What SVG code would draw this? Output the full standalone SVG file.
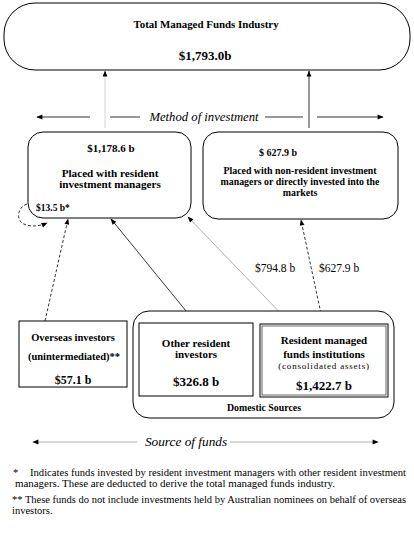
<svg xmlns="http://www.w3.org/2000/svg" width="414" height="538" viewBox="0 0 414 538">
<style>
text{font-family:'Liberation Serif','DejaVu Serif',serif;fill:#000}
.b{font-weight:bold}
.c{text-anchor:middle}
.i{font-style:italic}
.box{fill:#fff;stroke:#000;stroke-width:1}
.ln{fill:none;stroke:#000;stroke-width:0.8}
.dash{stroke-dasharray:3,2}
.gray{stroke:#999}
.lgray{stroke:#ccc}
.fn{font-size:10.5px}
</style>
<defs>
<marker id="ah" viewBox="0 0 10 10" refX="9" refY="5" markerWidth="7" markerHeight="6" markerUnits="userSpaceOnUse" orient="auto">
<path d="M0,1 L10,5 L0,9 Z" fill="#000"/>
</marker>
</defs>
<rect width="414" height="538" fill="#fff"/>

<g id="connectors">
<line class="ln lgray" x1="105" y1="128" x2="105" y2="71" marker-end="url(#ah)"/>
<line class="ln" x1="309" y1="128" x2="309" y2="71" marker-end="url(#ah)"/>
<line class="ln" x1="90" y1="117" x2="37" y2="117" marker-end="url(#ah)"/>
<line class="ln" x1="110" y1="117" x2="140" y2="117"/>
<line class="ln" x1="265" y1="117" x2="303" y2="117"/>
<line class="ln" x1="317" y1="117" x2="383" y2="117" marker-end="url(#ah)"/>
<path class="ln dash" d="M27,204 C18,207 16,218 22,223 C28,227 38,227 47,223" marker-end="url(#ah)"/>
<line class="ln dash" x1="45" y1="321" x2="68" y2="219" marker-end="url(#ah)"/>
<line class="ln" stroke="#333" stroke-width="0.6" x1="195" y1="322" x2="111" y2="219" marker-end="url(#ah)"/>
<line class="ln gray" x1="290" y1="323" x2="188" y2="217" marker-end="url(#ah)"/>
<line class="ln dash" x1="323" y1="323" x2="301" y2="220" marker-end="url(#ah)"/>
<line class="ln gray" x1="137" y1="442" x2="33" y2="442" marker-end="url(#ah)"/>
<line class="ln gray" x1="230" y1="442" x2="378" y2="442" marker-end="url(#ah)"/>
</g>

<g id="total">
<rect class="box" x="4" y="3" width="406" height="67" rx="31" ry="31"/>
<text class="b c" x="206" y="28" font-size="10.9">Total Managed Funds Industry</text>
<text class="b c" x="205" y="60" font-size="13">$1,793.0b</text>
</g>

<text class="i c" x="204" y="121" font-size="12.7">Method of investment</text>

<g id="resident-managers">
<rect class="box" x="28" y="132" width="163" height="86" rx="15" ry="15"/>
<text class="b c" x="111" y="152" font-size="11">$1,178.6 b</text>
<text class="b c" x="110" y="177" font-size="11.2">Placed with resident</text>
<text class="b c" x="110" y="188" font-size="11.2">investment managers</text>
<text class="b" x="36" y="211" font-size="9.5">$13.5 b*</text>
</g>

<g id="non-resident">
<rect class="box" x="203" y="132" width="195" height="87" rx="15" ry="15"/>
<text class="b c" x="278" y="156" font-size="10">$ 627.9 b</text>
<text class="b c" x="300" y="174" font-size="9.9">Placed with non-resident investment</text>
<text class="b c" x="300" y="185" font-size="9.9">managers or directly invested into the</text>
<text class="b c" x="300" y="196" font-size="9.9">markets</text>
</g>

<text class="c" x="275" y="272" font-size="11.5">$794.8 b</text>
<text class="c" x="339" y="272" font-size="11.5">$627.9 b</text>

<g id="overseas">
<rect class="box" x="19" y="321" width="108" height="66"/>
<text class="b c" x="73" y="341" font-size="10.5">Overseas investors</text>
<text class="b c" x="74" y="360" font-size="10.5">(unintermediated)**</text>
<text class="b c" x="73" y="384" font-size="12">$57.1 b</text>
</g>

<g id="domestic">
<rect class="box" x="133" y="311" width="261" height="107" rx="16" ry="16" stroke-width="0.8"/>
<text class="b c" x="264" y="411" font-size="9.9">Domestic Sources</text>
</g>

<g id="other-resident">
<rect class="box" x="139" y="323" width="114" height="73"/>
<text class="b c" x="196" y="347" font-size="11">Other resident</text>
<text class="b c" x="196" y="358" font-size="11">investors</text>
<text class="b c" x="196" y="386" font-size="13">$326.8 b</text>
</g>

<g id="resident-funds">
<rect class="box" x="260" y="324" width="128" height="73" stroke="#999" stroke-width="1.5"/>
<rect x="262" y="326" width="124" height="69" fill="none" stroke="#000" stroke-width="0.6"/>
<text class="b c" x="324" y="344" font-size="11">Resident managed</text>
<text class="b c" x="324" y="358" font-size="11">funds institutions</text>
<text class="c" x="324" y="369" font-size="9" letter-spacing="0.8">(consolidated assets)</text>
<text class="b c" x="324" y="390" font-size="13">$1,422.7 b</text>
</g>

<text class="i c" x="186" y="446" font-size="13.3">Source of funds</text>

<g id="footnotes">
<text class="fn" x="13" y="476">*</text>
<text class="fn" x="30" y="476" textLength="376" lengthAdjust="spacingAndGlyphs">Indicates funds invested by resident investment managers with other resident investment</text>
<text class="fn" x="15" y="487" textLength="320" lengthAdjust="spacingAndGlyphs">managers. These are deducted to derive the total managed funds industry.</text>
<text class="fn" x="12" y="503" textLength="394" lengthAdjust="spacingAndGlyphs">** These funds do not include investments held by Australian nominees on behalf of overseas</text>
<text class="fn" x="12" y="514">investors.</text>
</g>
</svg>
